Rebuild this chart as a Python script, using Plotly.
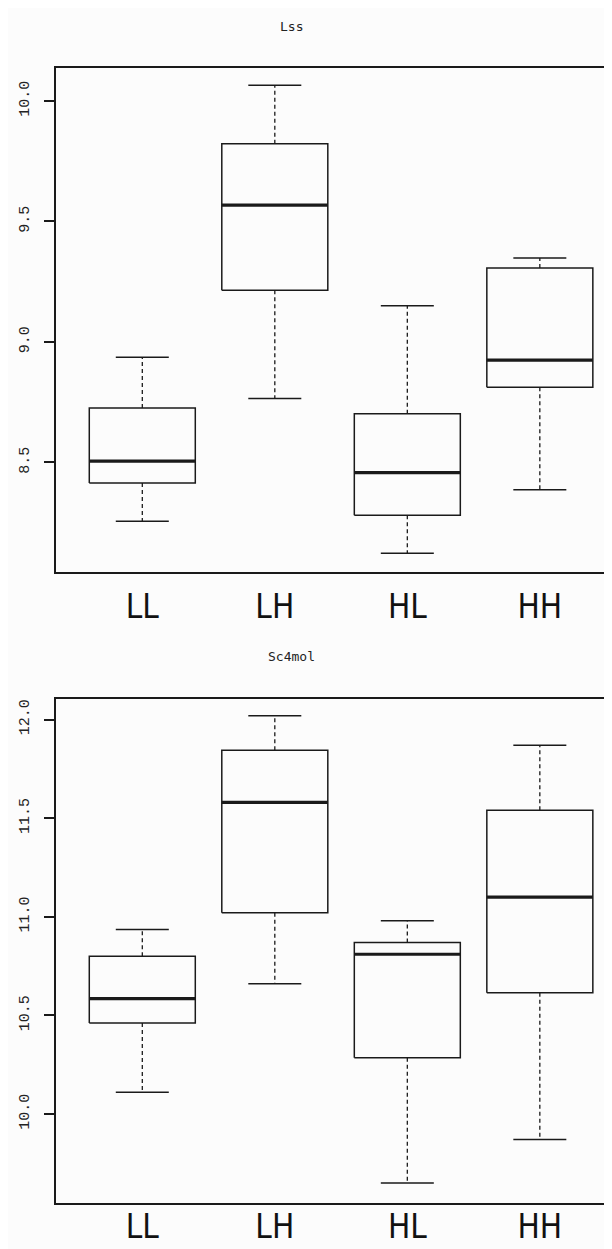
import plotly.graph_objects as go

# ---------------- data ----------------
categories = ["LL", "LH", "HL", "HH"]

lss_lower = [8.256, 8.765, 8.123, 8.387]
lss_q1 = [8.415, 9.215, 8.281, 8.812]
lss_median = [8.505, 9.568, 8.458, 8.925]
lss_q3 = [8.726, 9.823, 8.702, 9.307]
lss_upper = [8.937, 10.065, 9.150, 9.348]

sc4_lower = [10.110, 10.660, 9.650, 9.870]
sc4_q1 = [10.461, 11.020, 10.285, 10.615]
sc4_median = [10.585, 11.580, 10.810, 11.100]
sc4_q3 = [10.800, 11.845, 10.870, 11.540]
sc4_upper = [10.935, 12.020, 10.980, 11.870]

lss_ticks = [8.5, 9.0, 9.5, 10.0]
sc4_ticks = [10.0, 10.5, 11.0, 11.5, 12.0]

panels = [
    dict(title="Lss", lower=lss_lower, q1=lss_q1, med=lss_median, q3=lss_q3,
         upper=lss_upper, ticks=lss_ticks, yrange=[8.044, 10.137]),
    dict(title="Sc4mol", lower=sc4_lower, q1=sc4_q1, med=sc4_median, q3=sc4_q3,
         upper=sc4_upper, ticks=sc4_ticks, yrange=[9.547, 12.106]),
]

# ---------------- style ----------------
W, H = 612, 1249
INK = "#1a1a1a"
BG = "#fcfcfc"
HALF_BOX = 0.4     # R boxwex 0.8
HALF_CAP = 0.2     # R staplewex 0.5
panel_px = [(60.0, 564.3), (690.7, 1195.3)]  # top, bottom pixel of each plot box
title_px = [18.0, 648.7]
xlabel_standoff = [4, -7]
xlabel_size = 33
left_px = 47.5

fig = go.Figure()

for i, p in enumerate(panels):
    xa = "x" if i == 0 else "x2"
    ya = "y" if i == 0 else "y2"
    pos = list(range(1, len(categories) + 1))

    bx, by, mx, my, wx, wy, cx, cy = [], [], [], [], [], [], [], []
    for c, lo, a, m, b, hi in zip(pos, p["lower"], p["q1"], p["med"], p["q3"], p["upper"]):
        bx += [c - HALF_BOX, c + HALF_BOX, c + HALF_BOX, c - HALF_BOX, c - HALF_BOX, None]
        by += [a, a, b, b, a, None]
        mx += [c - HALF_BOX, c + HALF_BOX, None]
        my += [m, m, None]
        wx += [c, c, None, c, c, None]
        wy += [b, hi, None, a, lo, None]
        cx += [c - HALF_CAP, c + HALF_CAP, None, c - HALF_CAP, c + HALF_CAP, None]
        cy += [hi, hi, None, lo, lo, None]

    fig.add_trace(go.Scatter(x=wx, y=wy, mode="lines", xaxis=xa, yaxis=ya,
                             line=dict(color=INK, width=1.3, dash="4px,3px"),
                             hoverinfo="skip", showlegend=False))
    fig.add_trace(go.Scatter(x=cx, y=cy, mode="lines", xaxis=xa, yaxis=ya,
                             line=dict(color=INK, width=1.5),
                             hoverinfo="skip", showlegend=False))
    fig.add_trace(go.Scatter(x=bx, y=by, mode="lines", xaxis=xa, yaxis=ya,
                             line=dict(color=INK, width=1.5),
                             hoverinfo="skip", showlegend=False))
    fig.add_trace(go.Scatter(x=mx, y=my, mode="lines", xaxis=xa, yaxis=ya,
                             line=dict(color=INK, width=3.2),
                             hoverinfo="skip", showlegend=False))

    top, bot = panel_px[i]
    xkey = "xaxis" if i == 0 else "xaxis2"
    ykey = "yaxis" if i == 0 else "yaxis2"
    fig.update_layout(**{
        xkey: dict(
            domain=[left_px / W, 1.0], anchor=ya, range=[0.345, 4.605],
            showgrid=False, zeroline=False, showline=True, mirror=True,
            linecolor=INK, linewidth=1.5, ticks="",
            tickvals=pos, ticktext=categories, ticklabelstandoff=xlabel_standoff[i],
            tickfont=dict(family="DejaVu Sans Condensed, Liberation Sans Narrow, Lato, sans-serif",
                          size=xlabel_size, color="#111111"),
        ),
        ykey: dict(
            domain=[1 - bot / H, 1 - top / H], anchor=xa, range=p["yrange"],
            showgrid=False, zeroline=False, showline=True, mirror=False,
            linecolor=INK, linewidth=1.5, ticks="outside", ticklen=10,
            tickwidth=1.5, tickcolor=INK,
            tickvals=p["ticks"], ticktext=[f"{t:.1f}" for t in p["ticks"]],
            tickangle=-90, ticklabelstandoff=9,
            tickfont=dict(family="Liberation Mono, DejaVu Sans Mono, monospace",
                          size=15, color="#222222"),
        ),
    })
    fig.add_annotation(text=p["title"], xref="paper", yref="paper",
                       x=283 / W, y=1 - title_px[i] / H, showarrow=False,
                       xanchor="center", yanchor="middle",
                       font=dict(family="DejaVu Sans Mono, monospace", size=13, color="#222222"))

fig.update_layout(width=W, height=H, margin=dict(l=0, r=0, t=0, b=0),
                  paper_bgcolor=BG, plot_bgcolor=BG, showlegend=False)

fig.write_html("out.html")
